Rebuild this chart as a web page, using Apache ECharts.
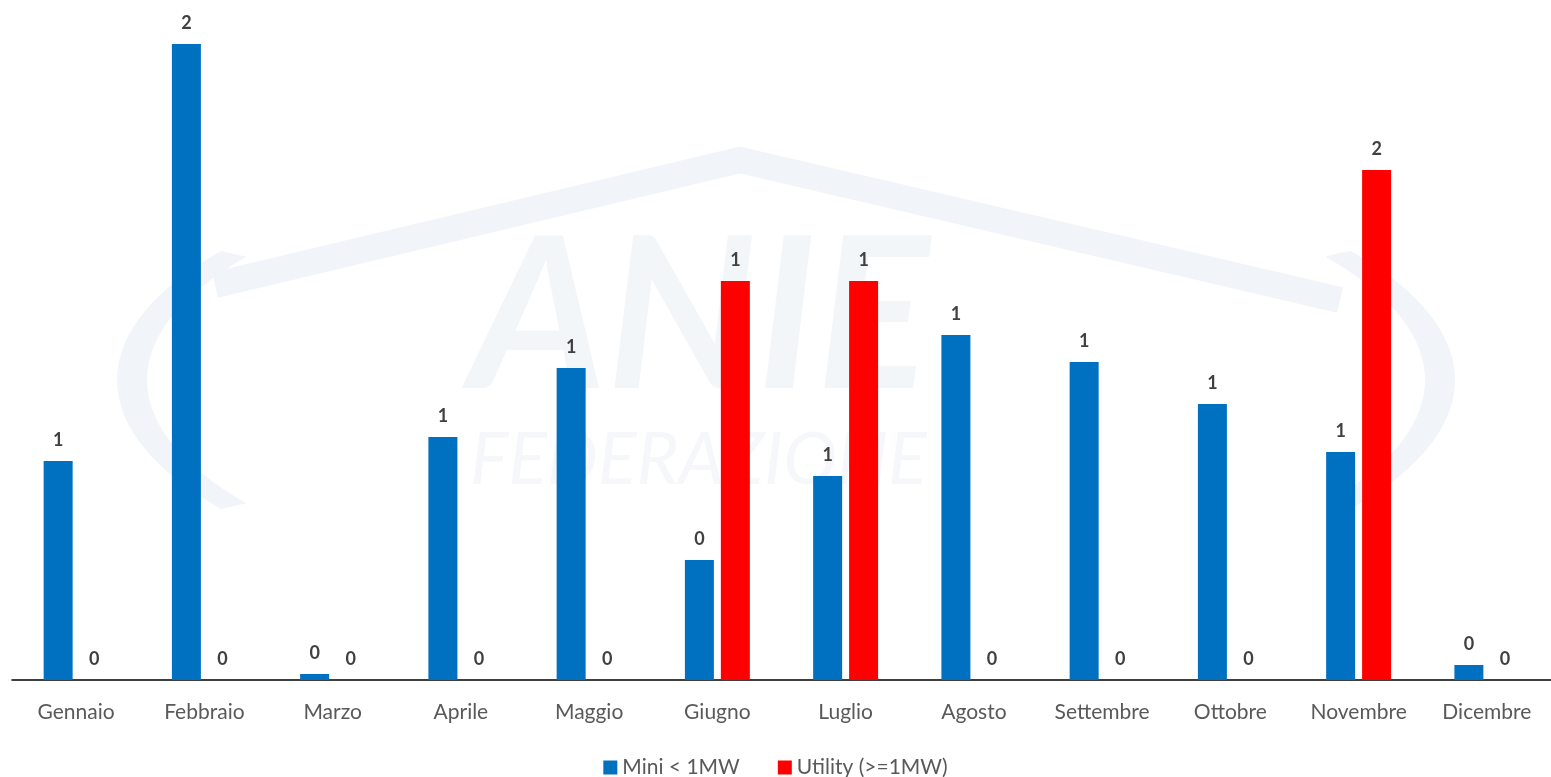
<!DOCTYPE html>
<html>
<head>
<meta charset="utf-8">
<script src="https://cdn.jsdelivr.net/npm/echarts@6/dist/echarts.min.js"></script>
<style>
  html, body { margin: 0; padding: 0; background: #fff; }
  #chart { width: 1551px; height: 777px; }
</style>
</head>
<body>
<div id="chart"></div>
<script>
let months = ['Gennaio', 'Febbraio', 'Marzo', 'Aprile', 'Maggio', 'Giugno',
    'Luglio', 'Agosto', 'Settembre', 'Ottobre', 'Novembre', 'Dicembre'];
let miniValues = [0.73, 2.12, 0.02, 0.81, 1.04, 0.40, 0.68, 1.15, 1.06, 0.92, 0.76, 0.05];
let utilityValues = [0, 0, 0, 0, 0, 1.33, 1.33, 0, 0, 0, 1.70, 0];

let font = 'Lato';
let wm = '#f1f4f8';

let labelOpt = {
    show: true,
    position: 'top',
    distance: 12,
    color: '#404040',
    fontFamily: font,
    fontWeight: 'bold',
    fontSize: 18,
    formatter: function (p) { return Math.round(p.value).toString(); }
};

// faint logo watermark behind the bars
let option = {
    animation: false,
    backgroundColor: '#fff',
    graphic: [
        {
            type: 'polyline', z: -10, silent: true,
            shape: { points: [[215, 285], [740, 160], [1340, 300]] },
            style: { stroke: wm, lineWidth: 26, fill: null, lineJoin: 'round' }
        },
        {
            type: 'arc', z: -10, silent: true,
            shape: { cx: 786, cy: 380, r: 654, startAngle: Math.PI * 0.82, endAngle: Math.PI * 1.18 },
            originX: 786, originY: 380, scaleY: 0.36,
            style: { stroke: wm, lineWidth: 30, fill: null }
        },
        {
            type: 'arc', z: -10, silent: true,
            shape: { cx: 786, cy: 380, r: 654, startAngle: -Math.PI * 0.18, endAngle: Math.PI * 0.18 },
            originX: 786, originY: 380, scaleY: 0.36,
            style: { stroke: wm, lineWidth: 30, fill: null }
        },
        {
            type: 'text', z: -10, silent: true,
            left: 470, top: 215,
            style: { text: 'ANIE', font: 'italic bold 210px Lato', fill: '#f3f6f9' }
        },
        {
            type: 'text', z: -10, silent: true,
            left: 470, top: 425,
            style: { text: 'FEDERAZIONE', font: 'italic 72px Lato', fill: '#f5f7fa' }
        }
    ],
    grid: { left: 12, right: 0, top: 20, bottom: 97, containLabel: false },
    legend: {
        top: 752,
        left: 'center',
        icon: 'rect',
        itemWidth: 14,
        itemHeight: 14,
        itemGap: 38,
        textStyle: { color: '#595959', fontFamily: font, fontSize: 21 },
        data: ['Mini < 1MW', 'Utility (>=1MW)']
    },
    xAxis: {
        type: 'category',
        data: months,
        axisLine: { lineStyle: { color: '#000', width: 1.5 } },
        axisTick: { inside: true, length: 8, lineStyle: { color: '#000', width: 1.5 } },
        axisLabel: { color: '#595959', fontFamily: font, fontSize: 21, margin: 22, interval: 0 }
    },
    yAxis: {
        type: 'value',
        min: 0,
        max: 2.2,
        show: false,
        splitLine: { show: false }
    },
    series: [
        {
            name: 'Mini < 1MW',
            type: 'bar',
            data: miniValues,
            barWidth: 29,
            barGap: '24%',
            itemStyle: { color: '#0070c0' },
            label: labelOpt
        },
        {
            name: 'Utility (>=1MW)',
            type: 'bar',
            data: utilityValues,
            barWidth: 29,
            itemStyle: { color: '#ff0000' },
            label: labelOpt
        }
    ]
};

let chart = echarts.init(document.getElementById('chart'));
chart.setOption(option);
</script>
</body>
</html>
